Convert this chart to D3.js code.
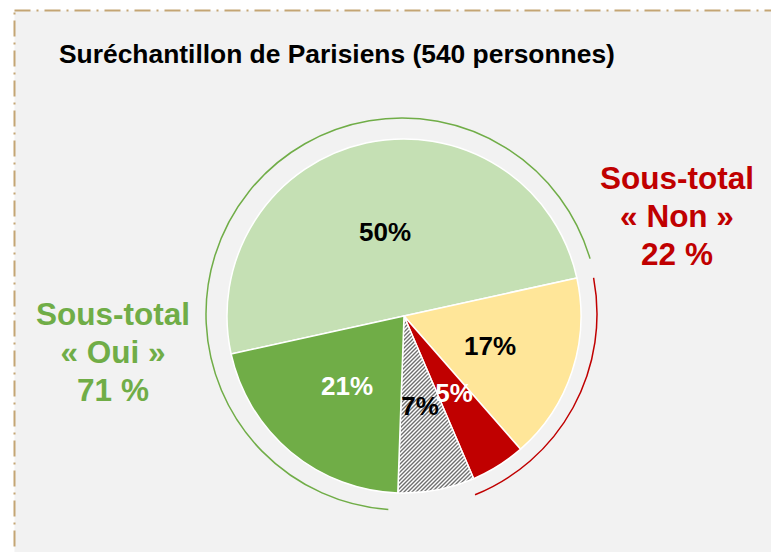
<!DOCTYPE html>
<html><head><meta charset="utf-8">
<script src="https://cdn.jsdelivr.net/npm/d3@7"></script>
<style>html,body{margin:0;padding:0;background:#fff;}svg{display:block;}</style>
</head><body>
<script>
// ---- data ----
const title = "Suréchantillon de Parisiens (540 personnes)";
const sliceNames = ["Oui, 50%", "Non, 17%", "Non, 5%", "Sans réponse, 7%", "Oui, 21%"];
const sliceValues = [50, 17, 5, 7, 21];
const sliceLabels = ["50%", "17%", "5%", "7%", "21%"];
const sliceGroups = ["oui", "non", "non", "nsp", "oui"];
const subtotalNames = ["oui", "non"];
const subtotalLines = [["Sous-total", "« Oui »", "71 %"], ["Sous-total", "« Non »", "22 %"]];

const W = 771, H = 552;
const svg = d3.select("body").append("svg").attr("width", W).attr("height", H);
const font = "'Liberation Sans', Arial, sans-serif";

// pattern for hatched slice
const defs = svg.append("defs");
const pat = defs.append("pattern").attr("id", "hatch").attr("patternUnits", "userSpaceOnUse")
  .attr("width", 4).attr("height", 4);
pat.append("rect").attr("width", 4).attr("height", 4).attr("fill", "#ffffff");
pat.append("path").attr("d", "M-1,1 L1,-1 M0,4 L4,0 M3,5 L5,3").attr("stroke", "#6f6f6f").attr("stroke-width", 1.4);

// panel with dash-dot frame
svg.append("rect").attr("x", 14.5).attr("y", 10.5).attr("width", W + 20).attr("height", H + 20)
  .attr("fill", "#f2f2f2").attr("stroke", "#c4a574").attr("stroke-width", 2)
  .attr("stroke-dasharray", "16,6,2,6");

svg.append("text").attr("x", 59).attr("y", 63).text(title)
  .attr("font-family", font).attr("font-weight", "bold").attr("font-size", 26.4).attr("fill", "#000");

const cx = 404, cy = 316, R = 177;
const deg = d => d * Math.PI / 180;
const start = 257.6;
const pie = d3.pie().sort(null).startAngle(deg(start)).endAngle(deg(start + 360));
const arcs = pie(sliceValues);
const fills = ["#c5e0b4", "#ffe699", "#c00000", "url(#hatch)", "#70ad47"];
const arc = d3.arc().innerRadius(0).outerRadius(R);
const g = svg.append("g").attr("transform", `translate(${cx},${cy})`);
g.selectAll("path.slice").data(arcs).join("path").attr("class", "slice")
  .attr("d", arc).attr("fill", (d, i) => fills[i])
  .attr("stroke", "#ffffff").attr("stroke-width", 1.5).attr("stroke-linejoin", "round");

// slice labels
const labelPos = [[-19, -75], [86, 39], [50, 86], [16, 99], [-57, 79]];
const labelColors = ["#000", "#000", "#fff", "#000", "#fff"];
g.selectAll("text.lbl").data(arcs).join("text").attr("class", "lbl")
  .attr("x", (d, i) => labelPos[i][0]).attr("y", (d, i) => labelPos[i][1])
  .attr("text-anchor", "middle").attr("font-family", font).attr("font-weight", "bold")
  .attr("font-size", 26).attr("fill", (d, i) => labelColors[i])
  .text((d, i) => sliceLabels[i]);
g.selectAll("text.lbl").filter((d, i) => i === 3).raise();

// subtotal arcs derived from pie angles
const TAU = 2 * Math.PI;
const ouiR = [arcs[4].startAngle - TAU, arcs[0].endAngle];
const nonR = [arcs[1].startAngle, arcs[2].endAngle];
const ga = svg.append("g").attr("transform", `translate(${cx - 2},${cy - 2})`);
const lineArc = d3.arc();
ga.append("path").attr("d", lineArc({innerRadius: 196, outerRadius: 196, startAngle: ouiR[0] + deg(2), endAngle: ouiR[1] - deg(4)}))
  .attr("fill", "none").attr("stroke", "#70ad47").attr("stroke-width", 1.5);
ga.append("path").attr("d", lineArc({innerRadius: 195, outerRadius: 195, startAngle: nonR[0] + deg(1.7), endAngle: nonR[1] + deg(1.2)}))
  .attr("fill", "none").attr("stroke", "#c00000").attr("stroke-width", 1.5);

// subtotal texts
const subPos = [[113, 325], [677, 189]];
const subColors = ["#70ad47", "#c00000"];
subtotalNames.forEach((n, k) => {
  const t = svg.append("text").attr("text-anchor", "middle").attr("font-family", font)
    .attr("font-weight", "bold").attr("font-size", 31.5).attr("fill", subColors[k]);
  subtotalLines[k].forEach((line, j) => {
    t.append("tspan").attr("x", subPos[k][0]).attr("y", subPos[k][1] + j * 38).text(line);
  });
});
</script>
</body></html>
